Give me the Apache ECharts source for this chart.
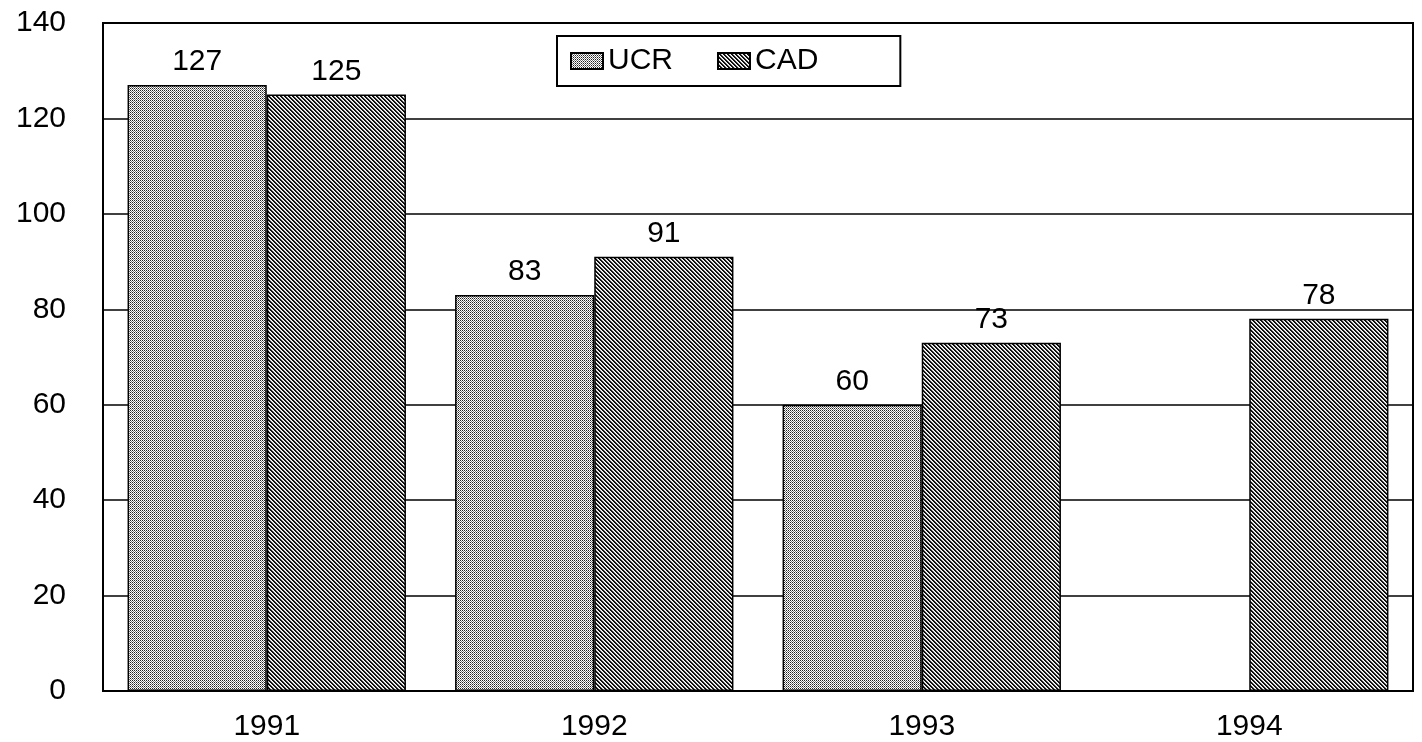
<!DOCTYPE html>
<html>
<head>
<meta charset="utf-8">
<script src="https://cdn.jsdelivr.net/npm/echarts@6/dist/echarts.min.js"></script>
<style>
html,body{margin:0;padding:0;background:#fff;}
#chart{width:1422px;height:742px;}
</style>
</head>
<body>
<div id="chart"></div>
<script>
const categories = ['1991', '1992', '1993', '1994'];
const ucrValues = [127, 83, 60, null];
const cadValues = [125, 91, 73, 78];
const seriesNames = ['UCR', 'CAD'];
const yTicks = [0, 20, 40, 60, 80, 100, 120, 140];

function makePattern(kind) {
  const c = document.createElement('canvas');
  c.width = 4; c.height = 4;
  const ctx = c.getContext('2d');
  ctx.fillStyle = '#ffffff';
  ctx.fillRect(0, 0, 4, 4);
  for (let y = 0; y < 4; y++) {
    for (let x = 0; x < 4; x++) {
      if (kind === 'dots') {
        if ((x + y) % 2 === 0) {
          ctx.fillStyle = (y % 2 === 0) ? '#222' : '#7a7a7a';
          ctx.fillRect(x, y, 1, 1);
        }
      } else {
        const d = (((x - y) % 4) + 4) % 4;
        if (d < 2) { ctx.fillStyle = '#111'; ctx.fillRect(x, y, 1, 1); }
        else if (d === 2) { ctx.fillStyle = '#c4c4c4'; ctx.fillRect(x, y, 1, 1); }
      }
    }
  }
  return c;
}

const font = "'Liberation Sans', Arial, sans-serif";
const chart = echarts.init(document.getElementById('chart'), null, {renderer: 'canvas'});
chart.setOption({
  animation: false,
  backgroundColor: '#fff',
  grid: {left: 103, right: 9, top: 23, bottom: 51, show: true, borderColor: '#000', borderWidth: 2, containLabel: false},
  legend: {
    data: seriesNames,
    left: 557, top: 36,
    padding: [10, 82, 10, 13],
    borderColor: '#000', borderWidth: 2,
    itemWidth: 32, itemHeight: 16, itemGap: 44,
    textStyle: {fontFamily: font, fontSize: 30, color: '#000'},
    icon: 'rect'
  },
  xAxis: {
    type: 'category',
    data: categories,
    axisLine: {show: true, lineStyle: {color: '#000', width: 2}},
    axisTick: {show: false},
    axisLabel: {fontFamily: font, fontSize: 30, color: '#000', margin: 21}
  },
  yAxis: {
    type: 'value',
    min: yTicks[0], max: yTicks[yTicks.length - 1], interval: 20,
    axisLine: {show: true, lineStyle: {color: '#000', width: 2}},
    axisTick: {show: false},
    axisLabel: {fontFamily: font, fontSize: 30, color: '#000', margin: 37},
    splitLine: {show: true, lineStyle: {color: '#000', width: 1.5}}
  },
  series: [
    {
      name: seriesNames[0], type: 'bar', data: ucrValues,
      barGap: '0%', barCategoryGap: '15%',
      itemStyle: {color: {image: makePattern('dots'), repeat: 'repeat'}, borderColor: '#000', borderWidth: 1.5},
      label: {show: true, position: 'top', distance: 8, fontFamily: font, fontSize: 30, color: '#000'}
    },
    {
      name: seriesNames[1], type: 'bar', data: cadValues,
      barGap: '0%', barCategoryGap: '15%',
      itemStyle: {color: {image: makePattern('hatch'), repeat: 'repeat'}, borderColor: '#000', borderWidth: 1.5},
      label: {show: true, position: 'top', distance: 8, fontFamily: font, fontSize: 30, color: '#000'}
    }
  ]
});
</script>
</body>
</html>
